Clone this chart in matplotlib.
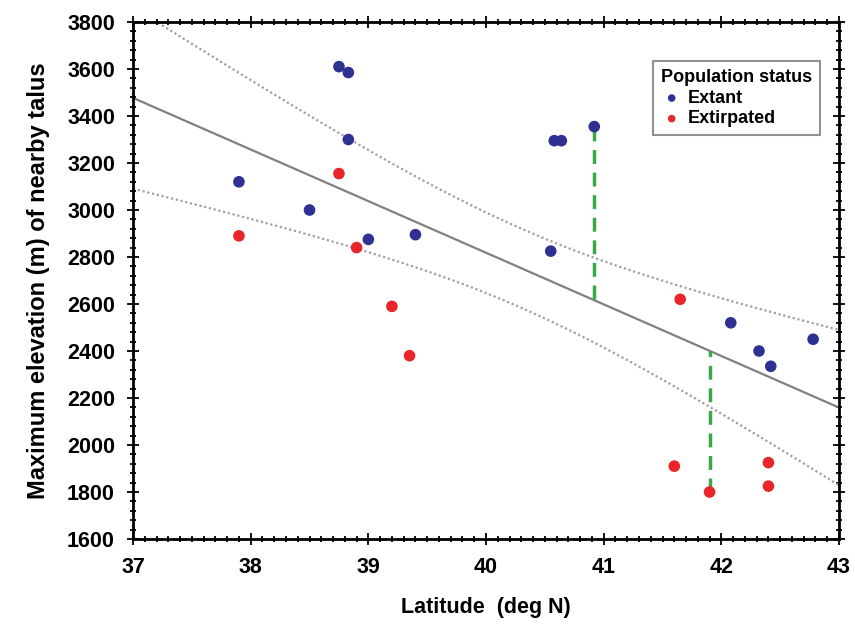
import numpy as np
import matplotlib
matplotlib.use("Agg")
import matplotlib.pyplot as plt
from matplotlib.ticker import MultipleLocator

plt.rcParams['font.family'] = ['Liberation Sans', 'DejaVu Sans']
plt.rcParams['font.weight'] = 'bold'

# --- data ---
extant_lat = [37.9, 38.5, 38.75, 38.83, 38.83, 39.0, 39.4, 40.55, 40.58, 40.64,
              40.92, 42.08, 42.32, 42.42, 42.78]
extant_elev = [3120, 3000, 3610, 3585, 3300, 2875, 2895, 2825, 3295, 3295,
               3355, 2520, 2400, 2335, 2450]
extirp_lat = [37.9, 38.75, 38.9, 39.2, 39.35, 41.65, 41.6, 41.9, 42.4, 42.4]
extirp_elev = [2890, 3155, 2840, 2590, 2380, 2620, 1910, 1800, 1925, 1825]

# points whose residuals are highlighted (green dashed)
resid_extant_idx = [10]
resid_extirp_idx = [7]

T_CRIT = 2.069  # t(0.975, df=23)

x_all = np.array(extant_lat + extirp_lat)
y_all = np.array(extant_elev + extirp_elev)
n = len(x_all)
slope, intercept = np.polyfit(x_all, y_all, 1)
resid = y_all - (slope * x_all + intercept)
s = np.sqrt(np.sum(resid ** 2) / (n - 2))
xbar = x_all.mean()
sxx = np.sum((x_all - xbar) ** 2)

fig = plt.figure(figsize=(8.55, 6.29), dpi=100)
ax = fig.add_axes([0.1556, 0.1431, 0.8257, 0.8219])

xs = np.linspace(37, 43, 300)
yfit = slope * xs + intercept
half = T_CRIT * s * np.sqrt(1.0 / n + (xs - xbar) ** 2 / sxx)

ax.plot(xs, yfit, color='#808080', lw=1.6, zorder=2)
ax.plot(xs, yfit + half, color='#a0a0a0', lw=1.6, ls=(0, (1, 1.2)), zorder=2)
ax.plot(xs, yfit - half, color='#a0a0a0', lw=1.6, ls=(0, (1, 1.2)), zorder=2)

green = '#3aa84a'
for i in resid_extant_idx:
    xi, yi = extant_lat[i], extant_elev[i]
    ax.plot([xi, xi], [yi, slope * xi + intercept], color=green, lw=2.5,
            ls=(0, (4, 2.5)), zorder=3)
for i in resid_extirp_idx:
    xi, yi = extirp_lat[i], extirp_elev[i]
    ax.plot([xi, xi], [yi, slope * xi + intercept], color=green, lw=2.5,
            ls=(0, (4, 2.5)), zorder=3)

ax.scatter(extant_lat, extant_elev, s=70, color='#2e3192', zorder=4,
           label='Extant', edgecolors='none')
ax.scatter(extirp_lat, extirp_elev, s=70, color='#e8262a', zorder=4,
           label='Extirpated', edgecolors='none')

ax.set_xlim(37, 43)
ax.set_ylim(1600, 3800)
ax.xaxis.set_major_locator(MultipleLocator(1))
ax.xaxis.set_minor_locator(MultipleLocator(0.1))
ax.yaxis.set_major_locator(MultipleLocator(200))
ax.yaxis.set_minor_locator(MultipleLocator(40))
ax.tick_params(which='both', direction='inout', top=True, right=True,
               width=1.3, labelsize=15.5)
ax.tick_params(which='major', length=8)
ax.tick_params(which='minor', length=4)
ax.tick_params(axis='y', which='major', pad=9)
ax.tick_params(axis='x', which='major', pad=9)
for sp in ax.spines.values():
    sp.set_linewidth(2)

ax.set_xlabel('Latitude  (deg N)', fontsize=15.5, fontweight='bold', labelpad=14)
ax.set_ylabel('Maximum elevation (m) of nearby talus', fontsize=17,
              fontweight='bold', labelpad=12)

leg = ax.legend(title='Population status', loc='upper right',
                bbox_to_anchor=(0.986, 0.942), frameon=True, fancybox=False,
                prop={'weight': 'bold', 'size': 13}, markerscale=0.65,
                handletextpad=0.3, handlelength=1.2, borderpad=0.45,
                labelspacing=0.2)
leg.get_title().set_fontweight('bold')
leg.get_title().set_fontsize(13)
leg.get_frame().set_edgecolor('#777777')
leg.get_frame().set_linewidth(1.5)
leg._legend_box.align = 'left'

fig.savefig('out.png', dpi=100)
